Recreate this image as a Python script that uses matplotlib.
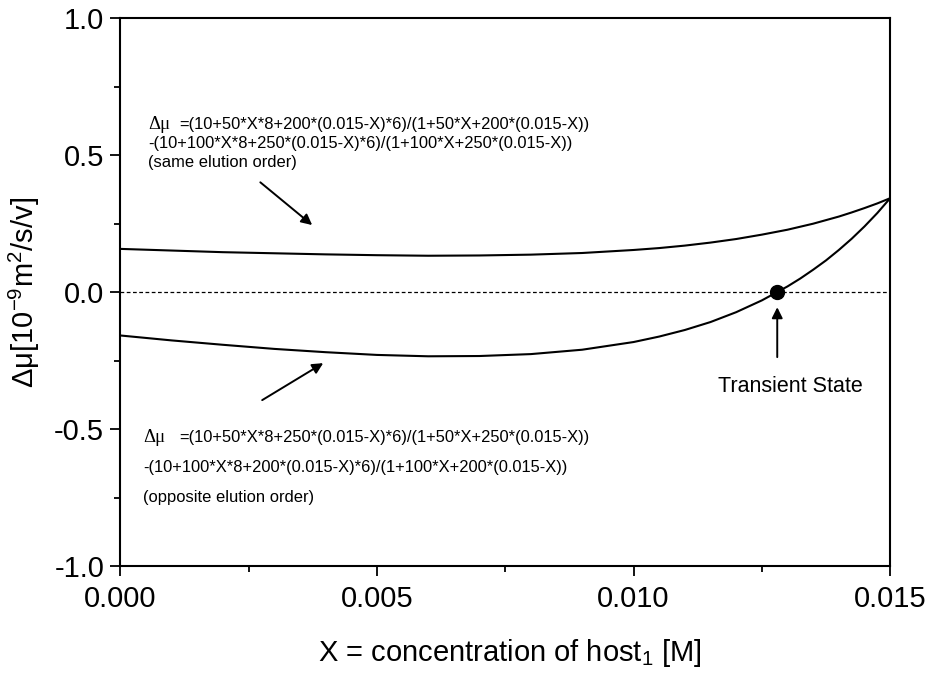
import matplotlib
matplotlib.use("Agg")
import matplotlib.pyplot as plt
from matplotlib.ticker import MultipleLocator, FixedLocator

plt.rcParams['font.family'] = ['Liberation Sans', 'DejaVu Sans']
plt.rcParams['mathtext.fontset'] = 'custom'
plt.rcParams['mathtext.rm'] = 'Liberation Sans'
plt.rcParams['mathtext.it'] = 'Liberation Sans:italic'
plt.rcParams['axes.unicode_minus'] = False

# host_1 concentration X [M]
conc = [0.0, 0.001, 0.002, 0.003, 0.004, 0.005, 0.006, 0.007, 0.008,
        0.009, 0.010, 0.0105, 0.011, 0.0115, 0.012, 0.0125, 0.013,
        0.01325, 0.0135, 0.01375, 0.014, 0.01425, 0.0145, 0.01475, 0.015]

# mobility difference, same elution order
dmu_same = [0.158, 0.152, 0.146, 0.142, 0.138, 0.135, 0.133, 0.134, 0.137,
            0.143, 0.154, 0.161, 0.170, 0.181, 0.194, 0.210, 0.228,
            0.239, 0.250, 0.263, 0.276, 0.291, 0.307, 0.324, 0.343]

# mobility difference, opposite elution order
dmu_opposite = [-0.158, -0.176, -0.192, -0.207, -0.219, -0.229, -0.234,
                -0.233, -0.226, -0.210, -0.182, -0.162, -0.138, -0.109,
                -0.073, -0.030, 0.021, 0.050, 0.082, 0.116, 0.154, 0.195,
                0.240, 0.289, 0.343]

# transient state (zero crossing of the opposite-order curve)
transient_x = 0.0128
transient_y = 0.0

x_ticks = [0.000, 0.005, 0.010, 0.015]
x_ticklabels = ['0.000', '0.005', '0.010', '0.015']
y_ticks = [-1.0, -0.5, 0.0, 0.5, 1.0]
y_ticklabels = ['-1.0', '-0.5', '0.0', '0.5', '1.0']

same_lines = ['=(10+50*X*8+200*(0.015-X)*6)/(1+50*X+200*(0.015-X))',
              '-(10+100*X*8+250*(0.015-X)*6)/(1+100*X+250*(0.015-X))',
              '(same elution order)']
opp_lines = ['=(10+50*X*8+250*(0.015-X)*6)/(1+50*X+250*(0.015-X))',
             '-(10+100*X*8+200*(0.015-X)*6)/(1+100*X+200*(0.015-X))',
             '(opposite elution order)']

fig = plt.figure(figsize=(9.39, 6.74), dpi=100)
ax = fig.add_axes([0.128, 0.160, 0.820, 0.813])

ax.plot(conc, dmu_same, color='black', lw=1.5)
ax.plot(conc, dmu_opposite, color='black', lw=1.5)
ax.axhline(0.0, color='black', lw=0.9, ls=(0, (3, 2)))
ax.plot([transient_x], [transient_y], 'o', color='black', ms=10)

ax.set_xlim(0.0, 0.015)
ax.set_ylim(-1.0, 1.0)

ax.xaxis.set_major_locator(FixedLocator(x_ticks))
ax.set_xticklabels(x_ticklabels)
ax.xaxis.set_minor_locator(MultipleLocator(0.0025))
ax.yaxis.set_major_locator(FixedLocator(y_ticks))
ax.set_yticklabels(y_ticklabels)
ax.yaxis.set_minor_locator(MultipleLocator(0.25))

ax.tick_params(which='both', direction='out', top=False, right=False,
               width=1.3, labelsize=21)
ax.tick_params(which='major', length=7.5)
ax.tick_params(which='minor', length=4.5)
ax.tick_params(axis='y', pad=4)
ax.tick_params(axis='x', pad=6)
for sp in ax.spines.values():
    sp.set_linewidth(1.5)

ax.set_ylabel(r'Δμ[10$^{\mathregular{-9}}$m$^{\mathregular{2}}$/s/v]', fontsize=21)
ax.yaxis.set_label_coords(-0.101, 0.5)
ax.set_xlabel(r'X = concentration of host$_{\mathregular{1}}$ [M]', fontsize=21)
ax.xaxis.set_label_coords(0.506, -0.13)

# formula annotations
fs = 11.9
gs = 13.5
ax.text(0.000545, 0.613, 'Δμ', fontsize=gs, family='Liberation Serif', va='center')
ax.text(0.00115, 0.613, same_lines[0], fontsize=fs, va='center')
ax.text(0.000545, 0.544, same_lines[1], fontsize=fs, va='center')
ax.text(0.000545, 0.474, same_lines[2], fontsize=fs, va='center')

ax.text(0.000448, -0.529, 'Δμ', fontsize=gs, family='Liberation Serif', va='center')
ax.text(0.00115, -0.529, opp_lines[0], fontsize=fs, va='center')
ax.text(0.000448, -0.639, opp_lines[1], fontsize=fs, va='center')
ax.text(0.000448, -0.748, opp_lines[2], fontsize=fs, va='center')

arrow = dict(arrowstyle='-|>', color='black', lw=1.4, mutation_scale=16,
             shrinkA=0, shrinkB=0)
ax.annotate('', xy=(0.00374, 0.245), xytext=(0.00273, 0.401), arrowprops=arrow)
ax.annotate('', xy=(0.003955, -0.259), xytext=(0.002766, -0.394), arrowprops=arrow)
ax.annotate('', xy=(transient_x, -0.055), xytext=(transient_x, -0.237), arrowprops=arrow)
ax.text(0.01305, -0.345, 'Transient State', fontsize=15.5, ha='center', va='center')

fig.savefig('out.png', dpi=100)
